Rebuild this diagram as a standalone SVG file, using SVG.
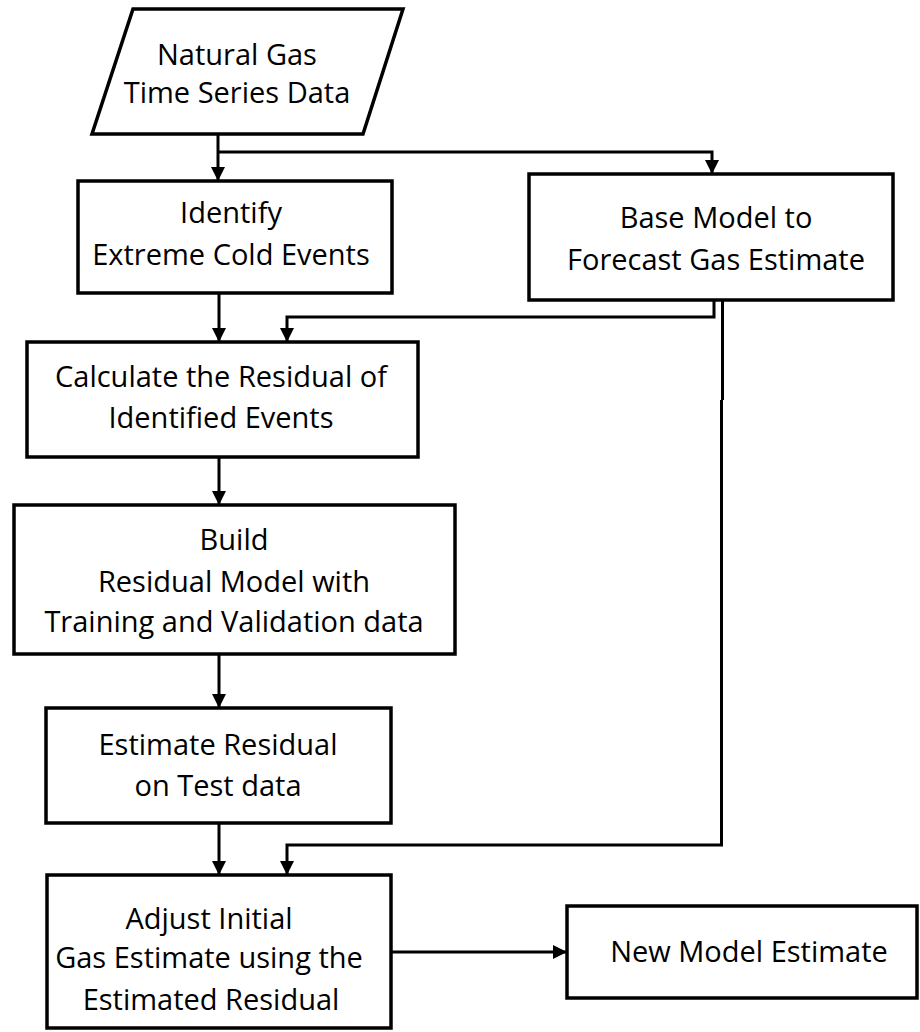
<svg xmlns="http://www.w3.org/2000/svg" width="920" height="1032" viewBox="0 0 920 1032">
<style>
.box{fill:#fff;stroke:#000;stroke-width:3.5}
.t{font-family:"Open Sans","Noto Sans",sans-serif;font-size:29px;fill:#000;text-anchor:middle}
.c{fill:none;stroke:#000;stroke-width:3}
</style>
<defs>
<marker id="ah" markerUnits="userSpaceOnUse" markerWidth="14" markerHeight="14" viewBox="0 0 14 14" refX="14" refY="7" orient="auto">
<path d="M0,0 L14,7 L0,14 Z" fill="#000"/>
</marker>
</defs>
<rect width="920" height="1032" fill="#fff"/>
<g id="connectors">
<path class="c" d="M218,134 V181" marker-end="url(#ah)"/>
<path class="c" d="M218,152 H712 V174" marker-end="url(#ah)"/>
<path class="c" d="M219,293 V342" marker-end="url(#ah)"/>
<path class="c" d="M714,300 V317 H287 V342" marker-end="url(#ah)"/>
<path class="c" d="M722.5,300 V400 M721.5,400 V845 H287 V875" marker-end="url(#ah)"/>
<path class="c" d="M219,457 V505" marker-end="url(#ah)"/>
<path class="c" d="M219,654 V708" marker-end="url(#ah)"/>
<path class="c" d="M219,823 V875" marker-end="url(#ah)"/>
<path class="c" d="M391,952 H567" marker-end="url(#ah)"/>
</g>
<g id="n-data">
<polygon class="box" points="133,9 403,9 363,134 92,134"/>
<text class="t" x="237" y="65">Natural Gas</text>
<text class="t" x="237" y="103">Time Series Data</text>
</g>
<g id="n-identify">
<rect class="box" x="78" y="181" width="314" height="112"/>
<text class="t" x="231" y="223">Identify</text>
<text class="t" x="231" y="265">Extreme Cold Events</text>
</g>
<g id="n-base">
<rect class="box" x="529" y="174" width="364" height="126"/>
<text class="t" x="716" y="228">Base Model to</text>
<text class="t" x="716" y="270">Forecast Gas Estimate</text>
</g>
<g id="n-calc">
<rect class="box" x="27" y="342" width="391" height="115"/>
<text class="t" x="221" y="387">Calculate the Residual of</text>
<text class="t" x="221" y="428">Identified Events</text>
</g>
<g id="n-build">
<rect class="box" x="14" y="505" width="441" height="149"/>
<text class="t" x="234" y="550">Build</text>
<text class="t" x="234" y="592">Residual Model with</text>
<text class="t" x="234" y="632">Training and Validation data</text>
</g>
<g id="n-estimate">
<rect class="box" x="46" y="708" width="345" height="115"/>
<text class="t" x="218" y="755">Estimate Residual</text>
<text class="t" x="218" y="796">on Test data</text>
</g>
<g id="n-adjust">
<rect class="box" x="47" y="875" width="344" height="153"/>
<text class="t" x="209" y="929">Adjust Initial</text>
<text class="t" x="209" y="968">Gas Estimate using the</text>
<text class="t" x="211" y="1010">Estimated Residual</text>
</g>
<g id="n-new">
<rect class="box" x="567" y="906" width="350" height="92"/>
<text class="t" x="749" y="962">New Model Estimate</text>
</g>
</svg>
